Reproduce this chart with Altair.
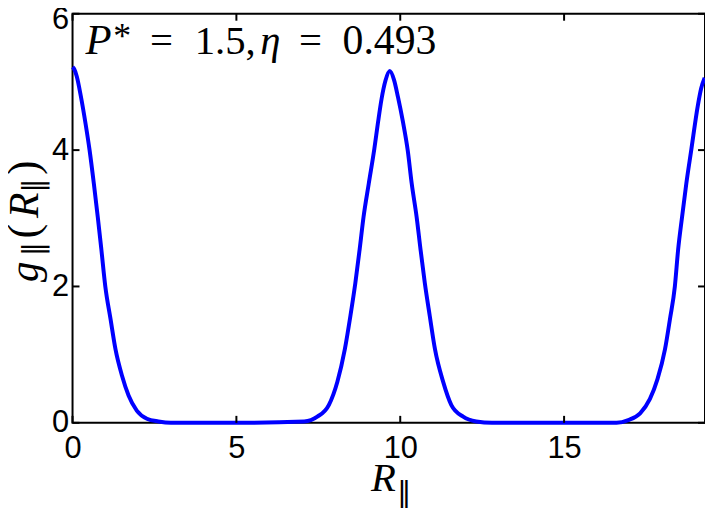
import altair as alt
import pandas as pd

# --- data ---
r_par = [0.0, 0.05, 0.13, 0.25, 0.40, 0.52, 0.65, 0.77, 0.88, 1.00, 1.16, 1.31, 1.51, 1.71,
         1.96, 2.27, 2.62, 3.00, 5.00, 7.07, 7.47, 7.82, 8.08, 8.31, 8.48, 8.63, 8.76,
         8.88, 9.04, 9.21, 9.32, 9.43, 9.55, 9.68, 9.81, 9.93, 10.08, 10.23, 10.35, 10.50, 10.62,
         10.75, 10.90, 11.06, 11.31, 11.56, 11.92, 12.32, 12.80, 15.00, 16.60, 16.96,
         17.32, 17.62, 17.85, 18.08, 18.23, 18.38, 18.48, 18.60, 18.73, 18.88, 19.08, 19.18, 19.29]
g_par = [5.22, 5.19, 5.08, 4.80, 4.38, 4.00, 3.51, 3.02, 2.54, 2.00, 1.52, 1.08, 0.69, 0.40,
         0.18, 0.06, 0.02, 0.00, 0.00, 0.02, 0.09, 0.26, 0.60, 1.08, 1.57, 2.05, 2.54,
         3.02, 3.51, 4.02, 4.40, 4.75, 5.02, 5.16, 5.03, 4.78, 4.42, 3.99, 3.51, 3.02, 2.54,
         2.05, 1.57, 1.08, 0.60, 0.26, 0.09, 0.02, 0.00, 0.00, 0.00, 0.04,
         0.14, 0.35, 0.64, 1.08, 1.52, 2.00, 2.54, 3.02, 3.51, 4.00, 4.65, 4.90, 5.06]
x_ticks = [0, 5, 10, 15]
y_ticks = [0, 2, 4, 6]
x_domain = [0, 19.3]
y_domain = [0, 6]

W, H = 637, 412
TL = 7  # tick length
xs = alt.Scale(domain=x_domain, nice=False, zero=False)
ys = alt.Scale(domain=y_domain, nice=False, zero=False)

tick_font = "Liberation Sans"
math_font = "Liberation Serif"

x_axis = alt.Axis(
    values=x_ticks, ticks=False, tickSize=0, domain=False, grid=False, title=None,
    labelFont=tick_font, labelFontSize=31, labelColor="black", labelPadding=11,
    labelFlush=False, labelOverlap=False)
y_axis = alt.Axis(
    values=y_ticks, ticks=False, tickSize=0, domain=False, grid=False, title=None,
    labelFont=tick_font, labelFontSize=31, labelColor="black", labelPadding=4,
    labelFlush=False, labelOverlap=False,
    labelOffset={"condition": {"test": "datum.value == 6", "value": 6}, "value": 0})

line = alt.Chart(pd.DataFrame({"R": r_par, "g": g_par})).mark_line(
    color="#0000ff", strokeWidth=4, interpolate="monotone"
).encode(
    x=alt.X("R:Q", scale=xs, axis=x_axis),
    y=alt.Y("g:Q", scale=ys, axis=y_axis),
)

xt = pd.DataFrame({"R": x_ticks})
yt = pd.DataFrame({"g": y_ticks})
tick_style = dict(color="black", strokeWidth=2)
xb = alt.Chart(xt).mark_rule(**tick_style).encode(
    x=alt.X("R:Q", scale=xs, axis=x_axis), y=alt.value(H), y2=alt.value(H - TL))
xtop = alt.Chart(xt).mark_rule(**tick_style).encode(
    x=alt.X("R:Q", scale=xs, axis=x_axis), y=alt.value(0), y2=alt.value(TL))
yl = alt.Chart(yt).mark_rule(**tick_style).encode(
    y=alt.Y("g:Q", scale=ys, axis=y_axis), x=alt.value(0), x2=alt.value(TL))
yr = alt.Chart(yt).mark_rule(**tick_style).encode(
    y=alt.Y("g:Q", scale=ys, axis=y_axis), x=alt.value(W), x2=alt.value(W - TL))


def txt(s, x, y, size, font=math_font, style="normal", angle=0, align="left"):
    return alt.Chart(pd.DataFrame({"t": [s]})).mark_text(
        font=font, fontSize=size, fontStyle=style, angle=angle, align=align,
        baseline="alphabetic", color="black"
    ).encode(x=alt.value(x), y=alt.value(y), text="t:N")


# annotation  P* = 1.5, eta = 0.493
ann = [
    txt("P", 13, 41, 43, style="italic"),
    txt("*", 41, 34, 36),
    txt("=", 78, 41, 41),
    txt("1.5,", 123, 41, 41),
    txt("η", 189, 41, 41, style="italic"),
    txt("=", 228, 41, 41),
    txt("0.493", 272, 41, 42),
]

# x title  R_||
xtitle = [
    txt("R", 313, 481, 41, style="italic", align="center"),
    txt("‖", 334, 492, 28, font="DejaVu Sans", align="center"),
]

# y title  g_||(R_||), rotated
YB = -35
ytitle = [
    txt("g", YB, 260, 41, style="italic", angle=270, align="center"),
    txt("‖", YB + 5, 237, 28, font="DejaVu Sans", angle=270, align="center"),
    txt("(", YB, 219, 44, angle=270, align="center"),
    txt("R", YB, 193, 42, style="italic", angle=270, align="center"),
    txt("‖", YB + 5, 173, 28, font="DejaVu Sans", angle=270, align="center"),
    txt(")", YB, 155, 44, angle=270, align="center"),
]

chart = alt.layer(line, xb, xtop, yl, yr, *ann, *xtitle, *ytitle).properties(
    width=W, height=H,
    padding={"left": 65, "top": 4, "right": 0, "bottom": 84},
    autosize=alt.AutoSizeParams(type="none"),
    background="white",
).configure_view(stroke="black", strokeWidth=2)

chart.save("out.html", embed_options={"renderer": "svg", "actions": False})
